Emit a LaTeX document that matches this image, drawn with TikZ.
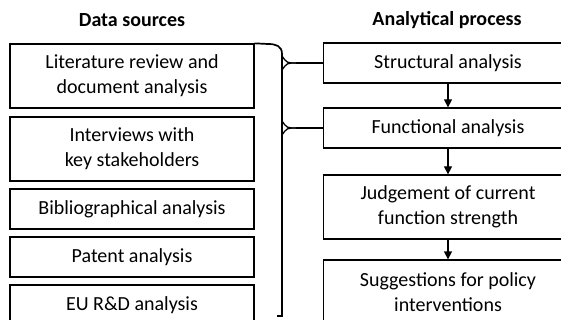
\documentclass[tikz,border=0pt]{standalone}
\usepackage{fontspec}
\setmainfont{Carlito}
\usepackage{tikz}
\usetikzlibrary{
    arrows.meta,
    positioning
}
\tikzstyle{srcbox} = [
    rectangle, draw,
    minimum width=244pt,
    inner sep=0pt,
    text centered,
    align=center,
    draw=black,
    line width=1.3pt
]
\tikzstyle{stepbox} = [
    rectangle, draw,
    minimum width=249pt,
    inner sep=0pt,
    text centered,
    align=center,
    draw=black,
    line width=1.3pt
]
\tikzstyle{arrow} = [
    line width=1.3pt,
    -{Triangle[length=8pt,width=8pt]}
]
\tikzstyle{feed} = [
    line width=1.3pt
]

\begin{document}
\begin{tikzpicture}[
	    x=1pt, y=-1pt, font=\fontsize{20}{25}\selectfont
	]
	    \useasboundingbox (0,0) rectangle (561,320);
	    \clip (0,0) rectangle (561,320);
	    % headings
	    \node (srchead)  at (132,20) {\bfseries Data sources};
	    \node (prochead) at (447,20) {\bfseries Analytical process};
	    % data sources
	    \node[srcbox, minimum height=64pt] (lit) at (132,76)  {Literature review and\\document analysis};
	    \node[srcbox, minimum height=64pt] (int) at (132,149) {Interviews with\\key stakeholders};
	    \node[srcbox, minimum height=40pt] (bib) at (132,209) {Bibliographical analysis};
	    \node[srcbox, minimum height=40pt] (pat) at (132,257) {Patent analysis};
	    \node[srcbox, minimum height=40pt] (eu)  at (132,305) {EU R\&D analysis};
	    % analytical process
	    \node[stepbox, minimum height=40pt] (str) at (448,63)  {Structural analysis};
	    \node[stepbox, minimum height=40pt] (fun) at (448,128) {Functional analysis};
	    \node[stepbox, minimum height=64pt] (jud) at (448,207) {Judgement of current\\function strength};
	    \node[stepbox, minimum height=64pt] (sug) at (448,292) {Suggestions for policy\\interventions};
	    % bracket
	    \coordinate (b1) at (282,63);
	    \coordinate (b2) at (282,128);
	    \draw[line width=1.7pt] (lit.north east) -- (268,44)
	        .. controls (276,44) and (282,46) .. (282,54)
	        -- (282,316) -- (277,316);
	    % flared feeds into the bracket
	    \foreach \b in {b1,b2} {
	        \draw[feed] ([xshift=14pt]\b) .. controls ([xshift=5pt]\b) .. ([yshift=7pt]\b);
	        \draw[feed] ([xshift=14pt]\b) .. controls ([xshift=5pt]\b) .. ([yshift=-7pt]\b);
	    }
	    \draw[feed] (str.west) -- ([xshift=14pt]b1);
	    \draw[feed] (fun.west) -- ([xshift=14pt]b2);
	    \draw[arrow] (str) -- (fun);
	    \draw[arrow] (fun) -- (jud);
	    \draw[arrow] (jud) -- (sug);
	\end{tikzpicture}
\end{document}
